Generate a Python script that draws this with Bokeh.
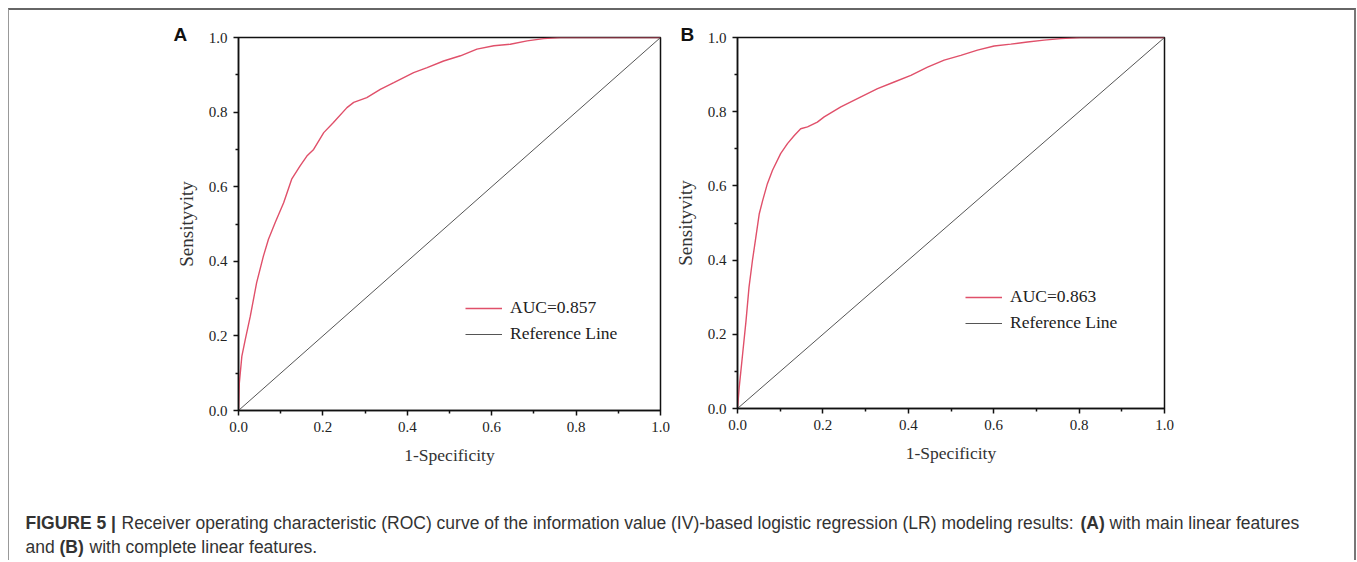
from bokeh.plotting import figure
from bokeh.models import Range1d, FixedTicker, Legend, LegendItem, Label, PrintfTickFormatter
from bokeh.layouts import column, row
from bokeh.embed import file_html
from bokeh.resources import INLINE

# ---------------- data ----------------
fpr_a = [0.0, 0.002, 0.008, 0.016, 0.028, 0.043, 0.059, 0.071, 0.087, 0.107, 0.126, 0.146,
         0.162, 0.178, 0.202, 0.225, 0.257, 0.273, 0.304, 0.336, 0.368, 0.415, 0.447, 0.486,
         0.526, 0.565, 0.605, 0.644, 0.684, 0.723, 0.763, 0.85, 1.0]
tpr_a = [0.0, 0.074, 0.146, 0.19, 0.253, 0.343, 0.414, 0.459, 0.504, 0.557, 0.62, 0.656,
         0.682, 0.70, 0.745, 0.772, 0.812, 0.826, 0.839, 0.861, 0.879, 0.906, 0.919, 0.937,
         0.951, 0.969, 0.978, 0.982, 0.991, 0.997, 1.0, 1.0, 1.0]

fpr_b = [0.0, 0.004, 0.012, 0.02, 0.027, 0.035, 0.043, 0.051, 0.059, 0.070, 0.082, 0.101,
         0.117, 0.133, 0.148, 0.164, 0.187, 0.203, 0.242, 0.289, 0.328, 0.367, 0.406, 0.445,
         0.484, 0.523, 0.562, 0.601, 0.640, 0.679, 0.718, 0.757, 0.803, 1.0]
tpr_b = [0.0, 0.057, 0.147, 0.237, 0.327, 0.399, 0.462, 0.525, 0.561, 0.606, 0.642, 0.687,
         0.714, 0.736, 0.754, 0.759, 0.772, 0.786, 0.813, 0.840, 0.862, 0.880, 0.898, 0.920,
         0.939, 0.952, 0.966, 0.977, 0.982, 0.988, 0.993, 0.997, 1.0, 1.0]

ref_line = [0.0, 1.0]
auc_labels = ["AUC=0.857", "AUC=0.863"]
ref_label = "Reference Line"
panel_letters = ["A", "B"]
major_ticks = [0.0, 0.2, 0.4, 0.6, 0.8, 1.0]
minor_ticks = [0.1, 0.3, 0.5, 0.7, 0.9]
x_title = "1-Specificity"
y_title = "Sensityvity"

caption_bold_1 = "FIGURE 5 |"
caption_text_1 = "Receiver operating characteristic (ROC) curve of the information value (IV)-based logistic regression (LR) modeling results:"
caption_bold_2 = "(A)"
caption_text_2 = "with main linear features"
caption_text_3 = "and"
caption_bold_3 = "(B)"
caption_text_4 = "with complete linear features."

SERIF = "Liberation Serif"
SANS = "Liberation Sans"
ROC_COLOR = "#e0506a"
REF_COLOR = "#555555"


def make_panel(fpr, tpr, auc_label, letter, bl, br, bt, bb, fw, fh, leg_xy, letter_offset):
    p = figure(frame_width=fw, frame_height=fh,
               x_range=Range1d(0, 1), y_range=Range1d(0, 1),
               output_backend="svg", toolbar_location=None,
               min_border_left=bl, min_border_right=br,
               min_border_top=bt, min_border_bottom=bb)
    p.background_fill_color = "white"
    p.border_fill_color = "white"
    p.outline_line_color = "#111111"
    p.outline_line_width = 1.5
    p.grid.visible = False

    # panel letter as the figure title, pushed left of the frame
    p.title.text = letter
    p.title.align = "left"
    p.title.offset = letter_offset
    p.title.standoff = -14
    p.title.text_font = SANS
    p.title.text_font_style = "bold"
    p.title.text_font_size = "19px"
    p.title.text_color = "#111111"

    r1 = p.line(fpr, tpr, line_color=ROC_COLOR, line_width=1.4)
    r2 = p.line(ref_line, ref_line, line_color=REF_COLOR, line_width=1)

    for ax in (p.xaxis[0], p.yaxis[0]):
        ax.ticker = FixedTicker(ticks=major_ticks, minor_ticks=minor_ticks)
        ax.formatter = PrintfTickFormatter(format="%.1f")
        ax.axis_line_color = "#111111"
        ax.axis_line_width = 1.5
        ax.major_tick_line_color = "#111111"
        ax.major_tick_line_width = 1.5
        ax.minor_tick_line_color = "#111111"
        ax.minor_tick_line_width = 1.5
        ax.major_tick_in = 0
        ax.major_tick_out = 5
        ax.minor_tick_in = 0
        ax.minor_tick_out = 3
        ax.major_label_text_font = SERIF
        ax.major_label_text_font_size = "15px"
        ax.major_label_text_color = "#222222"
        ax.major_label_standoff = 6
        ax.axis_label_text_font = SERIF
        ax.axis_label_text_font_style = "normal"
        ax.axis_label_text_color = "#333333"
        ax.axis_label_standoff = 10
    p.xaxis.axis_label_text_font_size = "17.5px"
    p.yaxis.axis_label_text_font_size = "19px"
    p.yaxis.axis_label_standoff = 9
    p.xaxis.axis_label = x_title
    p.yaxis.axis_label = y_title

    legend = Legend(items=[LegendItem(label=auc_label, renderers=[r1]),
                           LegendItem(label=ref_label, renderers=[r2])],
                    location=leg_xy, padding=0, margin=0, spacing=5,
                    glyph_width=37, glyph_height=20, label_height=20,
                    label_standoff=8, border_line_alpha=0,
                    background_fill_alpha=0,
                    label_text_font=SERIF, label_text_font_size="17.5px",
                    label_text_color="#222222")
    p.add_layout(legend)
    return p


pA = make_panel(fpr_a, tpr_a, auc_labels[0], panel_letters[0],
                229, 10, 25, 72, 422, 373, (227, 66), -65)
pB = make_panel(fpr_b, tpr_b, auc_labels[1], panel_letters[1],
                67, 190, 27, 72, 427, 371, (228, 75), -57)

cap = figure(frame_width=1345, frame_height=80, x_range=Range1d(0, 1), y_range=Range1d(0, 1),
             x_axis_type=None, y_axis_type=None, output_backend="svg",
             toolbar_location=None, min_border=0)
cap.outline_line_color = None
cap.grid.visible = False
cap.background_fill_color = "white"
cap.border_fill_color = "white"


def cap_label(x, y, text, bold=False):
    cap.add_layout(Label(x=x, y=y, x_units="screen", y_units="screen", text=text,
                         text_font=SANS, text_font_size="17.5px",
                         text_font_style="bold" if bold else "normal",
                         text_color="#333333", text_baseline="middle", text_align="left"))


cap_label(16, 38, caption_bold_1, True)
cap_label(112, 38, caption_text_1)
cap_label(1071, 38, caption_bold_2, True)
cap_label(1100, 38, caption_text_2)
cap_label(16, 14, caption_text_3)
cap_label(50, 14, caption_bold_3, True)
cap_label(80, 14, caption_text_4)

layout = column(row(pA, pB), cap,
                styles={"margin-left": "8px", "margin-top": "8px",
                        "border-top": "2px solid #666666",
                        "border-left": "1px solid #999999",
                        "border-right": "2px solid #777777"})

open("out.html", "w").write(file_html(layout, INLINE))
